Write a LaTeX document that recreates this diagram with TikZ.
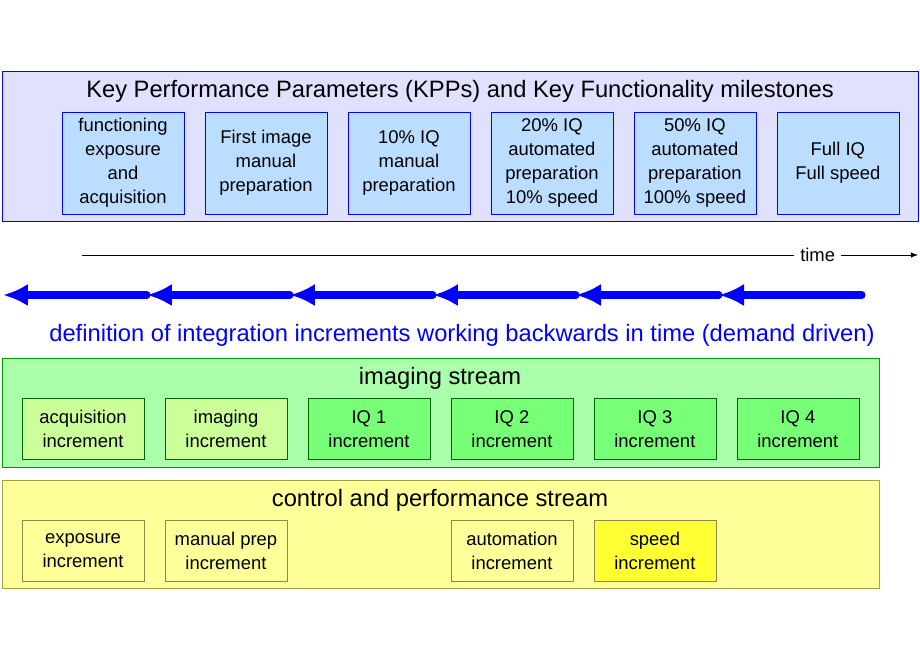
\documentclass[tikz,border=0pt]{standalone}
\usepackage{fontspec}
\setmainfont{Liberation Sans}
\usetikzlibrary{shapes,arrows,arrows.meta}
\usetikzlibrary{calc}
\definecolor{kppfill}{HTML}{E0E0FF}
\definecolor{kppbox}{HTML}{BBDDFF}
\definecolor{imgfill}{HTML}{AAFFAA}
\definecolor{imglight}{HTML}{CCFF99}
\definecolor{imgdark}{HTML}{77FF77}
\definecolor{ctlfill}{HTML}{FFFF99}
\definecolor{ctldark}{HTML}{FFFF33}
\tikzstyle{kpp} = [draw=blue, fill=kppbox, minimum width=2.44cm, minimum height=2.04cm, align=center, font=\fontsize{10.5}{13.6}\selectfont, inner sep=0pt]
\tikzstyle{inc} = [draw=black!60!green, minimum width=2.44cm, minimum height=1.22cm, align=center, font=\fontsize{10.5}{13.6}\selectfont, inner sep=0pt]
\tikzstyle{ctl} = [draw=black!50!yellow, fill=ctlfill, minimum width=2.44cm, minimum height=1.22cm, align=center, font=\fontsize{10.5}{13.6}\selectfont, inner sep=0pt]
\tikzstyle{back} = [draw=blue, line width=4pt, line cap=round, -{Latex[length=0.5cm,width=0.45cm]}]
\begin{document}
\begin{tikzpicture}[x=0.02cm, y=-0.02cm]
 \useasboundingbox (0,0) rectangle (920,660);
 % key performance parameters
 \draw [blue, fill=kppfill] (2,71) rectangle (918,221);
 \node (KT) at (460,91) {\fontsize{13.5}{16}\selectfont Key Performance Parameters (KPPs) and Key Functionality milestones};
 \node [kpp] (K1) at (123,163) {functioning\\exposure\\and\\acquisition};
 \node [kpp, right of=K1, node distance=2.86cm] (K2) {First image\\manual\\preparation};
 \node [kpp, right of=K2, node distance=2.86cm] (K3) {10\% IQ\\manual\\preparation};
 \node [kpp, right of=K3, node distance=2.86cm] (K4) {20\% IQ\\automated\\preparation\\10\% speed};
 \node [kpp, right of=K4, node distance=2.86cm] (K5) {50\% IQ\\automated\\preparation\\100\% speed};
 \node [kpp, right of=K5, node distance=2.86cm] (K6) {Full IQ\\Full speed};
 % time
 \coordinate (T0) at (82,255);
 \coordinate (T1) at (918,255);
 \draw [-latex] (T0) -- (T1) node[pos=0.88, fill=white, font=\fontsize{10.5}{12}\selectfont] (TL) {time};
 % backwards increments
 \foreach \i in {0,...,6} \coordinate (B\i) at ({862-143*\i},295);
 \coordinate (B6) at (3,295);
 \foreach \i [count=\j] in {0,...,5} \draw [back] (B\i) -- (B\j);
 \node [blue] (DEF) at (462,335) {\fontsize{13.5}{16}\selectfont definition of integration increments working backwards in time (demand driven)};
 % imaging stream
 \draw [black!40!green, fill=imgfill] (2,358) rectangle (879,467);
 \node (IT) at (440,378) {\fontsize{13.5}{16}\selectfont imaging stream};
 \node [inc, fill=imglight] (I1) at (83,429) {acquisition\\increment};
 \node [inc, fill=imglight, right of=I1, node distance=2.86cm] (I2) {imaging\\increment};
 \node [inc, fill=imgdark, right of=I2, node distance=2.86cm] (I3) {IQ 1\\increment};
 \node [inc, fill=imgdark, right of=I3, node distance=2.86cm] (I4) {IQ 2\\increment};
 \node [inc, fill=imgdark, right of=I4, node distance=2.86cm] (I5) {IQ 3\\increment};
 \node [inc, fill=imgdark, right of=I5, node distance=2.86cm] (I6) {IQ 4\\increment};
 % control and performance stream
 \draw [black!40!yellow, fill=ctlfill] (2,480) rectangle (879,588);
 \node (CT) at (440,500) {\fontsize{13.5}{16}\selectfont control and performance stream};
 \node [ctl] (C1) at (83,551) {exposure\\increment};
 \node [ctl, right of=C1, node distance=2.86cm] (C2) {manual prep\\increment};
 \node [ctl, right of=C2, node distance=5.72cm] (C3) {automation\\increment};
 \node [ctl, fill=ctldark, right of=C3, node distance=2.86cm] (C4) {speed\\increment};
\end{tikzpicture}
\end{document}
